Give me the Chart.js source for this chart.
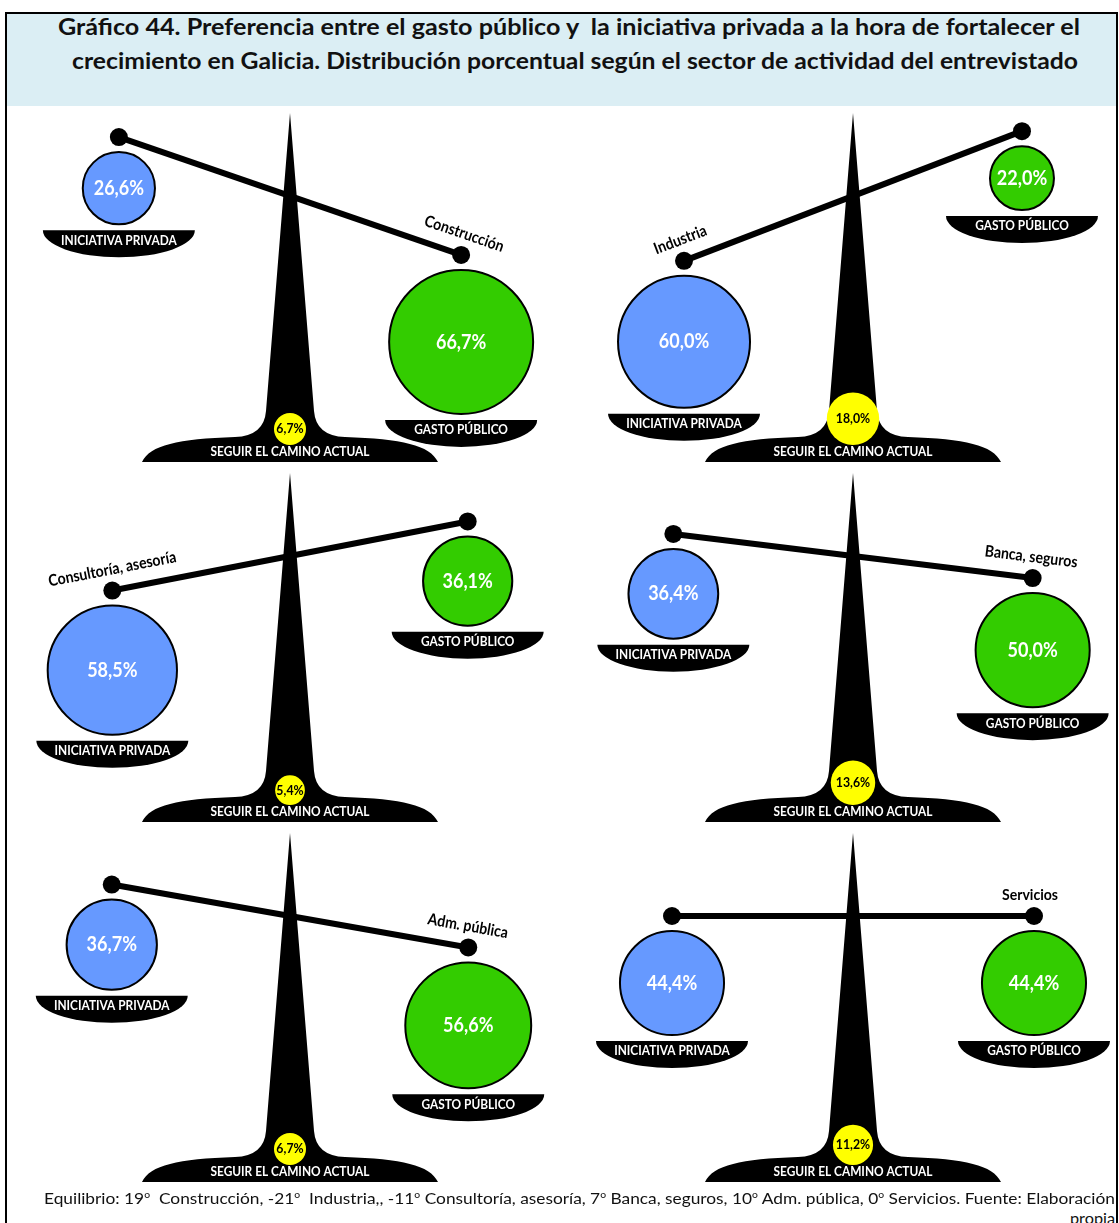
<!DOCTYPE html>
<html><head><meta charset="utf-8">
<script src="https://cdn.jsdelivr.net/npm/chart.js@4.4.1/dist/chart.umd.min.js"></script>
<style>
html,body{margin:0;padding:0;background:#fff;}
#page{position:relative;width:1119px;height:1223px;overflow:hidden;font-family:Lato,"Open Sans",sans-serif;}
#frame{position:absolute;left:5px;top:12px;width:1109px;height:1300px;border:2px solid #000;border-bottom:none;}
#band{position:absolute;left:7px;top:14px;width:1109px;height:92px;background:#dbeef4;}
.fit{position:absolute;white-space:nowrap;transform-origin:0 0;color:#111;}
.title{font-weight:bold;font-size:22px;line-height:26px;}
.foot{font-size:15px;line-height:18px;color:#111;}
.foot sup{font-size:9px;}
canvas{position:absolute;}
</style></head>
<body><div id="page">
<div id="frame"></div>
<div id="band"></div>
<span class="fit title" id="t1" data-x="58" data-w="1022" style="top:14px">Gráfico 44. Preferencia entre el gasto público y&nbsp; la iniciativa privada a la hora de fortalecer el</span>
<span class="fit title" id="t2" data-x="72" data-w="1006" style="top:48px">crecimiento en Galicia. Distribución porcentual según el sector de actividad del entrevistado</span>
<canvas id="c0" width="556" height="358" style="left:0px;top:110px"></canvas>
<canvas id="c1" width="556" height="358" style="left:563px;top:110px"></canvas>
<canvas id="c2" width="556" height="358" style="left:0px;top:470px"></canvas>
<canvas id="c3" width="556" height="358" style="left:563px;top:470px"></canvas>
<canvas id="c4" width="556" height="358" style="left:0px;top:830px"></canvas>
<canvas id="c5" width="556" height="358" style="left:563px;top:830px"></canvas>
<span class="fit foot" id="f1" data-x="44" data-w="1071" style="top:1186px">Equilibrio: 19<sup>o</sup>&nbsp; Construcción, -21<sup>o</sup>&nbsp; Industria,, -11<sup>o</sup> Consultoría, asesoría, 7<sup>o</sup> Banca, seguros, 10<sup>o</sup> Adm. pública, 0<sup>o</sup> Servicios. Fuente: Elaboración</span>
<span class="fit foot" id="f2" data-x="1070" data-w="45" style="top:1209px">propia</span>
</div>
<script>
// ---- data ----
const sectors = ['Construcción','Industria','Consultoría, asesoría','Banca, seguros','Adm. pública','Servicios'];
const equilibrio = [19, -21, -11, 7, 10, 0];          // beam angle (degrees)
const iniciativaPrivada = [26.6, 60.0, 58.5, 36.4, 36.7, 44.4];
const gastoPublico = [66.7, 22.0, 36.1, 50.0, 56.6, 44.4];
const caminoActual = [6.7, 18.0, 5.4, 13.6, 6.7, 11.2];
const plateLabels = ['INICIATIVA PRIVADA', 'GASTO PÚBLICO', 'SEGUIR EL CAMINO ACTUAL'];

// ---- fit html text ----
document.querySelectorAll('.fit').forEach(el => {
  el.style.left = el.dataset.x + 'px';
  const w = el.getBoundingClientRect().width;
  el.style.transform = 'scaleX(' + (parseFloat(el.dataset.w) / w) + ')';
});

const FONT = 'Lato, "Open Sans", sans-serif';
const SX = 0.88;
const HALF = 181;          // half beam length
const fmt = v => v.toFixed(1).replace('.', ',') + '%';
const bigR = v => 12.3 + 0.895 * v;
const smallR = v => 10 + 0.9 * v;

function txt(ctx, s, x, y, size, color, rot, sx) {
  ctx.save();
  ctx.translate(x, y);
  if (rot) ctx.rotate(rot);
  ctx.scale(sx, 1);
  ctx.font = 'bold ' + size + 'px ' + FONT;
  ctx.fillStyle = color;
  ctx.textAlign = 'center';
  ctx.textBaseline = 'middle';
  ctx.fillText(s, 0, 0);
  ctx.restore();
}

const balancePlugin = {
  id: 'balance',
  beforeDatasetsDraw(chart, args, opts) {
    const ctx = chart.ctx, xs = chart.scales.x, ys = chart.scales.y;
    const X = v => xs.getPixelForValue(v), Y = v => ys.getPixelForValue(v);
    ctx.save();
    ctx.fillStyle = '#000';
    ctx.beginPath();
    ctx.moveTo(X(0), Y(-83));
    ctx.lineTo(X(24), Y(215));
    ctx.quadraticCurveTo(X(26), Y(240), X(55), Y(241));
    ctx.bezierCurveTo(X(112), Y(243), X(140), Y(249), X(148), Y(266));
    ctx.lineTo(X(-148), Y(266));
    ctx.bezierCurveTo(X(-140), Y(249), X(-112), Y(243), X(-55), Y(241));
    ctx.quadraticCurveTo(X(-26), Y(240), X(-24), Y(215));
    ctx.closePath();
    ctx.fill();
    ctx.restore();
  },
  afterDatasetsDraw(chart, args, opts) {
    const i = opts.i;
    const ctx = chart.ctx, xs = chart.scales.x, ys = chart.scales.y;
    const X = v => xs.getPixelForValue(v), Y = v => ys.getPixelForValue(v);
    const th = equilibrio[i] * Math.PI / 180;
    const weights = [
      {meta: chart.getDatasetMeta(1), label: plateLabels[0]},
      {meta: chart.getDatasetMeta(2), label: plateLabels[1]}
    ];
    weights.forEach(w => {
      const el = w.meta.data[0];
      const r = el.options.radius;
      const cx = el.x, top = el.y + r + 6;
      ctx.save();
      ctx.fillStyle = '#000';
      ctx.beginPath();
      ctx.moveTo(cx - 76, top);
      ctx.lineTo(cx + 76, top);
      ctx.ellipse(cx, top, 76, 27, 0, 0, Math.PI, false);
      ctx.closePath();
      ctx.fill();
      ctx.restore();
      txt(ctx, w.label, cx, top + 10, 13.5, '#fff', 0, SX);
    });
    txt(ctx, fmt(iniciativaPrivada[i]), weights[0].meta.data[0].x, weights[0].meta.data[0].y, 20.5, '#fff', 0, SX);
    txt(ctx, fmt(gastoPublico[i]), weights[1].meta.data[0].x, weights[1].meta.data[0].y, 20.5, '#fff', 0, SX);
    const ye = chart.getDatasetMeta(3).data[0];
    txt(ctx, fmt(caminoActual[i]), ye.x, ye.y, 14, '#000', 0, SX);
    txt(ctx, plateLabels[2], X(0), Y(256), 13.5, '#fff', 0, SX);
    const beam = chart.getDatasetMeta(0).data;
    const rightSide = equilibrio[i] >= 0;
    const b = rightSide ? beam[1] : beam[0];
    const along = rightSide ? -4 : 4, perp = -21;
    const lx = b.x + along * Math.cos(th) - perp * Math.sin(th);
    const ly = b.y + along * Math.sin(th) + perp * Math.cos(th);
    txt(ctx, sectors[i], lx, ly, 16, '#000', th, SX);
  }
};

for (let i = 0; i < 6; i++) {
  const th = equilibrio[i] * Math.PI / 180;
  const left = {x: -HALF * Math.cos(th), y: -HALF * Math.sin(th)};
  const right = {x: HALF * Math.cos(th), y: HALF * Math.sin(th)};
  const rP = bigR(iniciativaPrivada[i]);
  const rG = bigR(gastoPublico[i]);
  const rY = smallR(caminoActual[i]);
  new Chart(document.getElementById('c' + i), {
    type: 'bubble',
    data: {
      datasets: [
        {type: 'line', data: [left, right], borderColor: '#000', borderWidth: 6,
         pointRadius: 9, pointBackgroundColor: '#000', pointBorderWidth: 0, order: 3, clip: false},
        {data: [{x: left.x, y: left.y + 15 + rP, r: rP}], backgroundColor: '#6699ff',
         borderColor: '#000', borderWidth: 2, order: 2, clip: false},
        {data: [{x: right.x, y: right.y + 15 + rG, r: rG}], backgroundColor: '#33cc00',
         borderColor: '#000', borderWidth: 2, order: 2, clip: false},
        {data: [{x: 0, y: 249 - rY, r: rY}], backgroundColor: '#ffff00',
         borderWidth: 0, order: 1, clip: false}
      ]
    },
    options: {
      responsive: false, animation: false, events: [],
      layout: {padding: 0, autoPadding: false},
      plugins: {legend: {display: false}, tooltip: {enabled: false}, balance: {i: i}},
      scales: {
        x: {type: 'linear', min: -290, max: 266, display: false},
        y: {type: 'linear', min: -86, max: 272, reverse: true, display: false}
      }
    },
    plugins: [balancePlugin]
  });
}
</script>
</body></html>
